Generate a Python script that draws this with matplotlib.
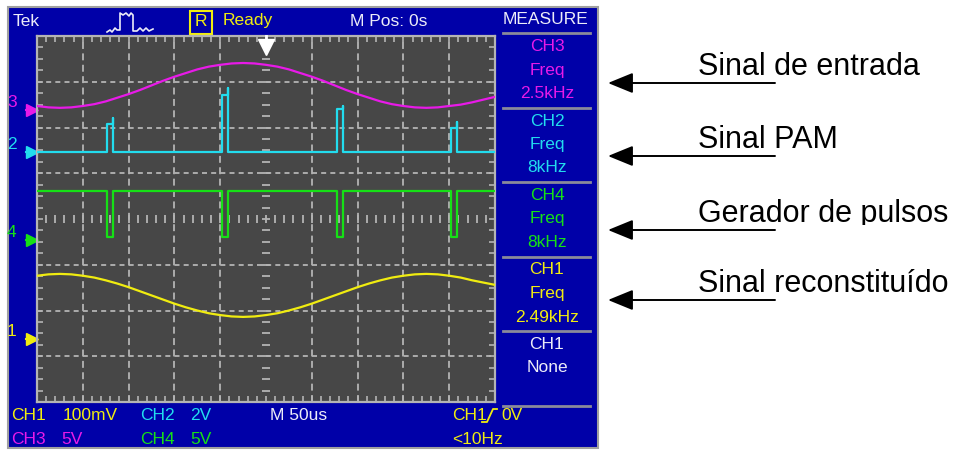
import numpy as np
import matplotlib.pyplot as plt
from matplotlib.patches import Rectangle
from matplotlib.transforms import Bbox, TransformedBbox

plt.rcParams['font.family'] = ['Liberation Sans', 'DejaVu Sans']
plt.rcParams['lines.scale_dashes'] = False

# eixo do tempo em divisoes (M 50us/div), amostras a cada 0.25 div
t_div = np.linspace(0, 10, 41)

# CH3 - sinal de entrada (em divisoes do ecra)
ch3 = [6.47, 6.44, 6.43, 6.44, 6.47, 6.51, 6.57, 6.65, 6.73, 6.82,
       6.92, 7.02, 7.11, 7.19, 7.27, 7.33, 7.37, 7.40, 7.41, 7.40,
       7.37, 7.33, 7.27, 7.19, 7.11, 7.02, 6.92, 6.82, 6.73, 6.65,
       6.57, 6.51, 6.47, 6.44, 6.43, 6.44, 6.47, 6.50, 6.55, 6.61, 6.67]

# CH1 - sinal reconstituido
ch1 = [2.76, 2.79, 2.80, 2.79, 2.76, 2.72, 2.66, 2.59, 2.51, 2.42,
       2.33, 2.24, 2.15, 2.07, 2.00, 1.94, 1.90, 1.87, 1.86, 1.87,
       1.90, 1.94, 2.00, 2.07, 2.15, 2.24, 2.33, 2.42, 2.51, 2.59,
       2.66, 2.72, 2.76, 2.79, 2.80, 2.79, 2.76, 2.72, 2.66, 2.61, 2.56]

# CH2 - sinal PAM / CH4 - gerador de pulsos (8 kHz)
pulse_start = [1.53, 4.04, 6.55, 9.04]
pulse_width = 0.14
pam_base = 5.46
pam_top = [6.08, 6.71, 6.40, 5.99]
pam_spike = [6.21, 6.86, 6.47, 6.12]
clk_high = 4.61
clk_low = 3.61

# marcadores de terra de cada canal (div)
channels = ['3', '2', '4', '1']
ground = [6.38, 5.46, 3.54, 1.38]

MAG = '#e81ae8'
CYA = '#22dcee'
GRN = '#16e016'
YEL = '#f0ec10'
WHT = '#ececf8'
BLUE = '#0000a8'
GRID = '#b4b4b4'
ch_colors = [MAG, CYA, GRN, YEL]

fig = plt.figure(figsize=(9.65, 4.5), dpi=100)
fig.patch.set_facecolor('white')

# fundo em coordenadas de pixel
bg = fig.add_axes([0, 0, 1, 1])
bg.set_xlim(0, 965)
bg.set_ylim(450, 0)
bg.axis('off')
bg.add_patch(Rectangle((8, 7), 590, 441, facecolor=BLUE, edgecolor='#a0a0a0', lw=1.5))

fs = 12.5
bg.text(13, 21, 'Tek', color=WHT, fontsize=fs, va='center')
icon_x = [107, 110, 112, 115, 117, 120, 120, 123, 126, 129, 131, 133, 133, 137, 140, 143, 146, 149, 153]
icon_y = [32, 30, 32, 28, 30, 30, 13, 15, 13, 16, 13, 15, 31, 31, 28, 31, 28, 31, 29]
bg.plot(icon_x, icon_y, color=WHT, lw=1.2)
bg.add_patch(Rectangle((190, 11), 22, 23, facecolor='none', edgecolor=YEL, lw=1.5))
bg.text(201, 22, 'R', color=YEL, fontsize=fs, ha='center', va='center')
bg.text(223, 21, 'Ready', color=YEL, fontsize=fs, va='center')
bg.text(350, 21, 'M Pos: 0s', color=WHT, fontsize=fs, va='center')
bg.text(546, 20, 'MEASURE', color=WHT, fontsize=fs, ha='center', va='center')

# painel MEASURE
measure = [('CH3', 'Freq', '2.5kHz', MAG), ('CH2', 'Freq', '8kHz', CYA),
           ('CH4', 'Freq', '8kHz', GRN), ('CH1', 'Freq', '2.49kHz', YEL),
           ('CH1', 'None', '', WHT)]
for k, (a, b, c, col) in enumerate(measure):
    top = 33 + 74.5 * k
    bg.plot([503, 590], [top, top], color='#8a8a9a', lw=2)
    for j, s in enumerate([a, b, c]):
        bg.text(547, top + 13.5 + 23.5 * j, s, color=col, fontsize=fs, ha='center', va='center')
bg.plot([503, 590], [406, 406], color='#8a8a9a', lw=2)

# barra de baixo
bg.text(11, 416, 'CH1', color=YEL, fontsize=fs, va='center')
bg.text(63, 416, '100mV', color=YEL, fontsize=fs, va='center')
bg.text(140, 416, 'CH2', color=CYA, fontsize=fs, va='center')
bg.text(190, 416, '2V', color=CYA, fontsize=fs, va='center')
bg.text(270, 416, 'M 50us', color=WHT, fontsize=fs, va='center')
bg.text(452, 416, 'CH1', color=YEL, fontsize=fs, va='center')
bg.plot([482, 487, 493, 497], [422, 422, 409, 409], color=YEL, lw=1.3)
bg.text(501, 416, '0V', color=YEL, fontsize=fs, va='center')
bg.text(11, 440, 'CH3', color=MAG, fontsize=fs, va='center')
bg.text(61, 440, '5V', color=MAG, fontsize=fs, va='center')
bg.text(140, 440, 'CH4', color=GRN, fontsize=fs, va='center')
bg.text(190, 440, '5V', color=GRN, fontsize=fs, va='center')
bg.text(452, 440, '<10Hz', color=YEL, fontsize=fs, va='center')

# legendas com setas a direita
labels = ['Sinal de entrada', 'Sinal PAM', 'Gerador de pulsos', 'Sinal reconstituído']
label_base = [75, 148, 222, 292]
for lab, yb in zip(labels, label_base):
    txt = bg.text(698, yb, lab, fontsize=22, color='black', va='baseline')
    if lab == 'Gerador de pulsos':
        # o texto original aparece cortado por baixo
        txt.set_clip_box(TransformedBbox(Bbox.from_extents(690, 180, 970, 225), bg.transData))
        txt.set_clip_on(True)
    bg.annotate('', xy=(608, yb + 8), xytext=(775, yb + 8),
                arrowprops=dict(arrowstyle='-|>,head_length=1.1,head_width=0.45',
                                mutation_scale=14, color='black', lw=1.4,
                                shrinkA=0, shrinkB=0))

# ecra do osciloscopio
ax = fig.add_axes([37 / 965, 48 / 450, 458 / 965, 366 / 450])
ax.set_facecolor('#474747')
ax.set_xlim(0, 10)
ax.set_ylim(0, 8)
ax.set_xticks(np.arange(0, 10.01, 0.2))
ax.set_yticks(np.arange(0, 8.01, 0.25))
ax.tick_params(direction='in', length=4, width=1.2, color=GRID, top=True, right=True,
               labelbottom=False, labelleft=False)
for sp in ax.spines.values():
    sp.set_color(GRID)
    sp.set_linewidth(1.6)

for gx in range(1, 10):
    if gx != 5:
        ax.axvline(gx, color=GRID, lw=1.3, ls=(0, (5, 3.2)), zorder=1)
for gy in range(1, 8):
    if gy != 4:
        ax.axhline(gy, color=GRID, lw=1.3, ls=(0, (3.6, 3.0)), zorder=1)
tx = np.arange(0.2, 10, 0.2)
ax.vlines(tx, 4 - 0.08, 4 + 0.08, color=GRID, lw=1.3, zorder=1)
ty = np.arange(0.25, 8, 0.25)
ax.hlines(ty, 5 - 0.08, 5 + 0.08, color=GRID, lw=1.3, zorder=1)

# traços
ax.plot(t_div, ch3, color=MAG, lw=1.6, zorder=3)
ax.plot(t_div, ch1, color=YEL, lw=1.6, zorder=3)

pam_x, pam_y = [0], [pam_base]
clk_x, clk_y = [0], [clk_high]
for x0, top, spk in zip(pulse_start, pam_top, pam_spike):
    x1 = x0 + pulse_width
    pam_x += [x0, x0, x1, x1, x1]
    pam_y += [pam_base, top, top, spk, pam_base]
    clk_x += [x0, x0, x1, x1]
    clk_y += [clk_high, clk_low, clk_low, clk_high]
pam_x.append(10)
pam_y.append(pam_base)
clk_x.append(10)
clk_y.append(clk_high)
ax.plot(pam_x, pam_y, color=CYA, lw=1.6, zorder=3)
ax.plot(clk_x, clk_y, color=GRN, lw=1.6, zorder=3)

# marcadores dos canais
for ch, g, col in zip(channels, ground, ch_colors):
    ax.plot([-0.24, -0.1], [g, g], color=col, lw=1.5, clip_on=False)
    ax.plot(-0.12, g, marker='>', ms=8, color=col, clip_on=False)
    ax.text(-0.55, g + 0.16, ch, color=col, fontsize=fs, ha='center', va='center')

# marcador de trigger
ax.plot([5, 5], [8, 7.84], color='white', lw=2, clip_on=False, zorder=4)
ax.plot(5, 7.76, marker='v', ms=11, color='white', clip_on=False, zorder=4)

plt.savefig('out.png', dpi=100)
